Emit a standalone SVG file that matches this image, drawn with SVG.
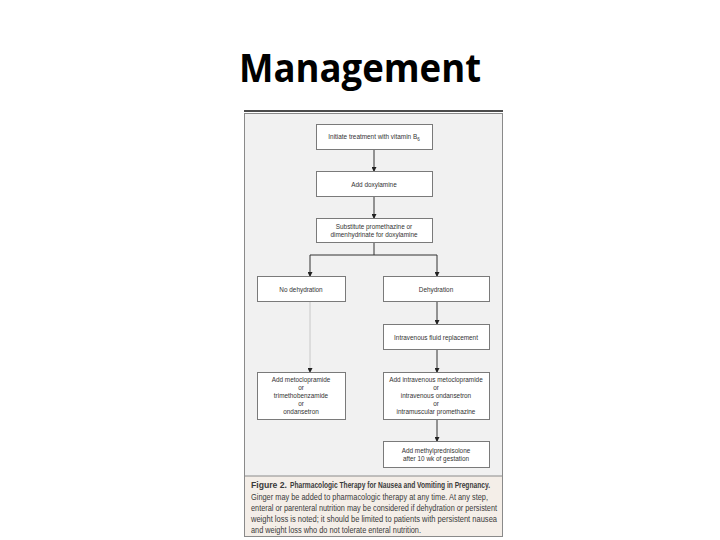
<svg xmlns="http://www.w3.org/2000/svg" width="720" height="540" viewBox="0 0 720 540">
<style>
.box{fill:#ffffff;stroke:#7a7a7a;stroke-width:1}
.t{font-family:"Liberation Sans",Arial,sans-serif;font-size:6.4px;fill:#333;text-anchor:middle}
.c{font-family:"Liberation Sans",Arial,sans-serif;font-size:8.6px;fill:#3a3a3a}
.ln{stroke:#333;stroke-width:1;fill:none}
</style>
<defs>
<marker id="ah" markerWidth="5" markerHeight="5" refX="4" refY="2.5" orient="auto" markerUnits="userSpaceOnUse">
<path d="M0,0 L5,2.5 L0,5 z" fill="#222"/>
</marker>
</defs>
<rect width="720" height="540" fill="#ffffff"/>
<text x="360" y="82" font-family="'Open Sans','Liberation Sans',sans-serif" font-size="40" font-weight="bold" text-anchor="middle" fill="#000" textLength="242" lengthAdjust="spacingAndGlyphs">Management</text>
<g id="panel">
<line x1="244" y1="111" x2="503" y2="111" stroke="#111" stroke-width="1.5"/>
<rect x="244.5" y="113.5" width="258" height="423" fill="#f1f1f1" stroke="#8a8a8a" stroke-width="1"/>
<rect x="245" y="476" width="257" height="60" fill="#f4eee8"/>
<line x1="244" y1="476" x2="503" y2="476" stroke="#8a8a8a" stroke-width="1"/>
</g>
<g id="connectors">
<line class="ln" x1="374" y1="149" x2="374" y2="171" marker-end="url(#ah)"/>
<line class="ln" x1="374" y1="197" x2="374" y2="218" marker-end="url(#ah)"/>
<line class="ln" x1="374" y1="242" x2="374" y2="255"/>
<line class="ln" x1="310" y1="255" x2="437" y2="255"/>
<line class="ln" x1="310" y1="255" x2="310" y2="276" marker-end="url(#ah)"/>
<line class="ln" x1="437" y1="255" x2="437" y2="276" marker-end="url(#ah)"/>
<line class="ln" x1="437" y1="302" x2="437" y2="324" marker-end="url(#ah)"/>
<line x1="310" y1="302" x2="310" y2="372" stroke="#c8c8c8" stroke-width="1" marker-end="url(#ah)"/>
<line class="ln" x1="437" y1="349" x2="437" y2="372" marker-end="url(#ah)"/>
<line class="ln" x1="437" y1="420" x2="437" y2="441" marker-end="url(#ah)"/>
</g>
<g id="n1"><rect class="box" x="316.5" y="124.5" width="116" height="25"/><text class="t" x="374" y="139">Initiate treatment with vitamin B<tspan font-size="4.5" dy="1.5">6</tspan></text></g>
<g id="n2"><rect class="box" x="316.5" y="171.5" width="116" height="25"/><text class="t" x="374" y="186.5">Add doxylamine</text></g>
<g id="n3"><rect class="box" x="316.5" y="218.5" width="116" height="24"/><text class="t" x="374" y="229">Substitute promethazine or</text><text class="t" x="374" y="237">dimenhydrinate for doxylamine</text></g>
<g id="n4"><rect class="box" x="257.5" y="276.5" width="88" height="25"/><text class="t" x="301" y="291.5">No dehydration</text></g>
<g id="n5"><rect class="box" x="383.5" y="276.5" width="106" height="25"/><text class="t" x="436" y="291.5">Dehydration</text></g>
<g id="n6"><rect class="box" x="383.5" y="324.5" width="106" height="25"/><text class="t" x="436" y="339.5">Intravenous fluid replacement</text></g>
<g id="n7"><rect class="box" x="257.5" y="372.5" width="88" height="47"/>
<text class="t" x="301" y="382">Add metoclopramide</text><text class="t" x="301" y="390">or</text><text class="t" x="301" y="398">trimethobenzamide</text><text class="t" x="301" y="406">or</text><text class="t" x="301" y="414">ondansetron</text></g>
<g id="n8"><rect class="box" x="383.5" y="372.5" width="106" height="47"/>
<text class="t" x="436" y="382">Add intravenous metoclopramide</text><text class="t" x="436" y="390">or</text><text class="t" x="436" y="398">intravenous ondansetron</text><text class="t" x="436" y="406">or</text><text class="t" x="436" y="414">intramuscular promethazine</text></g>
<g id="n9"><rect class="box" x="383.5" y="441.5" width="106" height="26"/><text class="t" x="436" y="452.5">Add methylprednisolone</text><text class="t" x="436" y="460.5">after 10 wk of gestation</text></g>
<g id="caption">
<text class="c" x="251" y="488" textLength="36" lengthAdjust="spacingAndGlyphs" font-weight="bold" fill="#c0282d">Figure 2.</text>
<text class="c" x="290" y="488" textLength="200" lengthAdjust="spacingAndGlyphs" font-weight="bold" fill="#2e2e3a">Pharmacologic Therapy for Nausea and Vomiting in Pregnancy.</text>
<text class="c" x="251" y="500" textLength="237" lengthAdjust="spacingAndGlyphs">Ginger may be added to pharmacologic therapy at any time. At any step,</text>
<text class="c" x="251" y="511" textLength="246" lengthAdjust="spacingAndGlyphs">enteral or parenteral nutrition may be considered if dehydration or persistent</text>
<text class="c" x="251" y="522" textLength="246" lengthAdjust="spacingAndGlyphs">weight loss is noted; it should be limited to patients with persistent nausea</text>
<text class="c" x="251" y="533" textLength="170" lengthAdjust="spacingAndGlyphs">and weight loss who do not tolerate enteral nutrition.</text>
</g>
</svg>
